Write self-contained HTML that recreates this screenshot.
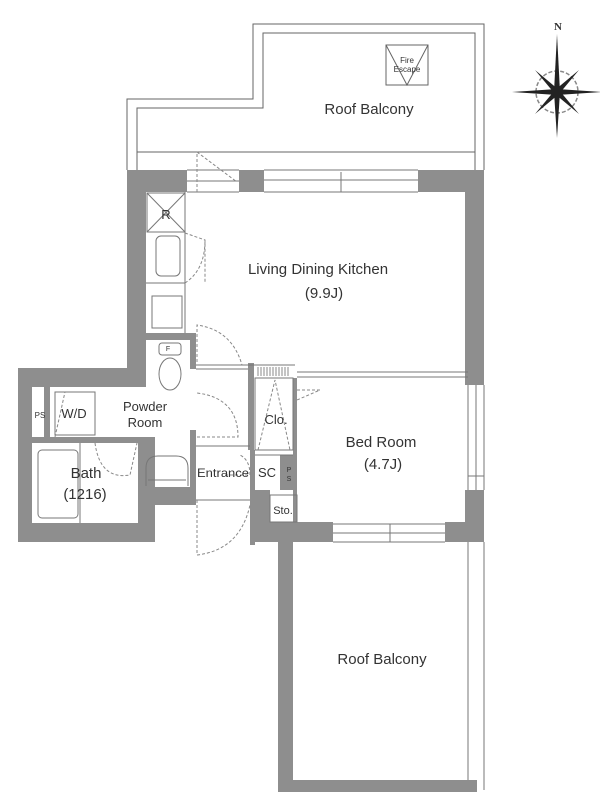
<!DOCTYPE html>
<html><head><meta charset="utf-8"><style>
html,body{margin:0;padding:0;background:#fff;}
svg{display:block}
text{font-family:"Liberation Sans",sans-serif;fill:#333;}
</style></head><body>
<svg width="600" height="800" viewBox="0 0 600 800" xmlns="http://www.w3.org/2000/svg">
<g fill="none" stroke="#666" stroke-width="1">
<polyline points="127,170 127,99 253,99 253,24 484,24 484,170"/>
<polyline points="137,170 137,108 263,108 263,33 475,33 475,170"/>
<line x1="137" y1="152" x2="475" y2="152"/>
<rect x="386" y="45" width="42" height="40"/>
<polyline points="386,45 407,85 428,45"/>
</g>
<text x="407" y="63" font-size="8" text-anchor="middle">Fire</text>
<text x="407" y="72" font-size="8" text-anchor="middle">Escape</text>
<text x="369" y="114" font-size="15" text-anchor="middle">Roof Balcony</text>

<g fill="#8e8e8e">
<rect x="127" y="170" width="60" height="22"/>
<rect x="239" y="170" width="25" height="22"/>
<rect x="418" y="170" width="66" height="22"/>
<rect x="127" y="170" width="19" height="200"/>
<rect x="465" y="170" width="19" height="215"/>
<rect x="465" y="490" width="19" height="52"/>
<rect x="18" y="368" width="128" height="19"/>
<rect x="18" y="368" width="14" height="174"/>
<rect x="18" y="523" width="137" height="19"/>
<rect x="138" y="437" width="17" height="105"/>
<rect x="32" y="437" width="110" height="6"/>
<rect x="44" y="387" width="6" height="50"/>
<rect x="140" y="487" width="55" height="18"/>
<rect x="146" y="333" width="50" height="7"/>
<rect x="190" y="333" width="6" height="36"/>
<rect x="190" y="430" width="6" height="75"/>
<rect x="250" y="450" width="5" height="95"/>
<rect x="255" y="490" width="15" height="52"/>
<rect x="255" y="522" width="78" height="20"/>
<rect x="445" y="522" width="39" height="20"/>
<rect x="293" y="378" width="4" height="145"/>
<rect x="248" y="363" width="6" height="87"/>
<rect x="280" y="455" width="17" height="35"/>
<rect x="278" y="542" width="15" height="250"/>
<rect x="278" y="780" width="199" height="12"/>
</g>

<g fill="none" stroke="#777" stroke-width="1">
<line x1="187" y1="181" x2="239" y2="181"/><line x1="187" y1="192" x2="239" y2="192"/><line x1="187" y1="170" x2="239" y2="170"/>
<line x1="264" y1="170" x2="418" y2="170"/><line x1="264" y1="180" x2="418" y2="180"/><line x1="264" y1="192" x2="418" y2="192"/>
<line x1="341" y1="172" x2="341" y2="192"/>
<line x1="468" y1="385" x2="468" y2="490"/><line x1="476" y1="385" x2="476" y2="490"/><line x1="484" y1="385" x2="484" y2="490"/>
<line x1="468" y1="476" x2="484" y2="476"/>
<line x1="333" y1="524" x2="445" y2="524"/><line x1="333" y1="533" x2="445" y2="533"/><line x1="333" y1="542" x2="445" y2="542"/>
<line x1="390" y1="524" x2="390" y2="542"/>
<line x1="468" y1="542" x2="468" y2="780"/><line x1="484" y1="542" x2="484" y2="790"/>
<line x1="185" y1="192" x2="185" y2="333"/>
<rect x="147" y="193" width="38" height="39"/>
<line x1="147" y1="193" x2="185" y2="232"/><line x1="185" y1="193" x2="147" y2="232"/>
<rect x="156" y="236" width="24" height="40" rx="5"/>
<line x1="146" y1="283" x2="185" y2="283"/>
<rect x="152" y="296" width="30" height="32"/>
<rect x="159" y="343" width="22" height="12" rx="3"/>
<ellipse cx="170" cy="374" rx="11" ry="16"/>
<rect x="55" y="392" width="40" height="43"/>
<rect x="38" y="450" width="40" height="68" rx="4"/>
<line x1="80" y1="443" x2="80" y2="523"/>
<path d="M146,486 V468 Q146,456 158,456 H176 Q188,456 188,468 V486"/>
<line x1="148" y1="480" x2="186" y2="480"/>
<line x1="196" y1="365" x2="295" y2="365"/><line x1="196" y1="369" x2="248" y2="369"/>
<line x1="196" y1="446" x2="250" y2="446"/>
<line x1="196" y1="500" x2="250" y2="500"/>
<rect x="255" y="378" width="38" height="72"/>
<line x1="255" y1="455" x2="293" y2="455"/>
<line x1="297" y1="372" x2="468" y2="372"/><line x1="297" y1="377" x2="468" y2="377"/>
<rect x="270" y="495" width="27" height="27"/>
</g>
<g stroke="#888" stroke-width="1">
<line x1="258" y1="367" x2="258" y2="376"/><line x1="261" y1="367" x2="261" y2="376"/><line x1="264" y1="367" x2="264" y2="376"/><line x1="267" y1="367" x2="267" y2="376"/><line x1="270" y1="367" x2="270" y2="376"/><line x1="273" y1="367" x2="273" y2="376"/><line x1="276" y1="367" x2="276" y2="376"/><line x1="279" y1="367" x2="279" y2="376"/><line x1="282" y1="367" x2="282" y2="376"/><line x1="285" y1="367" x2="285" y2="376"/><line x1="288" y1="367" x2="288" y2="376"/>
</g>
<g fill="none" stroke="#888" stroke-width="1" stroke-dasharray="3,2">
<path d="M197,192 L197,152 L237,182"/>
<path d="M185,233 L205,240 L205,283"/><path d="M185,283 Q205,270 205,240"/>
<path d="M197,362 L197,325 Q232,330 242,365"/>
<path d="M197,437 L238,437 Q238,398 197,393"/>
<path d="M197,500 L197,555 Q240,550 250,505"/>
<path d="M95,443 Q100,480 130,475 L137,443"/>
<path d="M55,437 L65,392"/>
<path d="M258,450 L275,380 L290,450"/>
<path d="M297,390 L320,390 L297,400"/>
<path d="M225,475 L250,475 Q250,460 240,455"/>
</g>
<g>
<text x="166" y="219" font-size="13" text-anchor="middle">R</text>
<text x="168" y="351" font-size="7" text-anchor="middle">F</text>
<text x="318" y="274" font-size="15" text-anchor="middle">Living Dining Kitchen</text>
<text x="324" y="298" font-size="15" text-anchor="middle">(9.9J)</text>
<text x="40" y="418" font-size="8" text-anchor="middle">PS</text>
<text x="74" y="418" font-size="13" text-anchor="middle">W/D</text>
<text x="145" y="411" font-size="13" text-anchor="middle">Powder</text>
<text x="145" y="427" font-size="13" text-anchor="middle">Room</text>
<text x="86" y="478" font-size="15" text-anchor="middle">Bath</text>
<text x="85" y="499" font-size="15" text-anchor="middle">(1216)</text>
<text x="223" y="477" font-size="12" text-anchor="middle" textLength="52" lengthAdjust="spacingAndGlyphs">Entrance</text>
<text x="267" y="477" font-size="13" text-anchor="middle">SC</text>
<text x="289" y="472" font-size="7" text-anchor="middle">P</text>
<text x="289" y="481" font-size="7" text-anchor="middle">S</text>
<text x="276" y="424" font-size="13" text-anchor="middle">Clo.</text>
<text x="283" y="514" font-size="11" text-anchor="middle">Sto.</text>
<text x="381" y="447" font-size="15" text-anchor="middle">Bed Room</text>
<text x="383" y="469" font-size="15" text-anchor="middle">(4.7J)</text>
<text x="382" y="664" font-size="15" text-anchor="middle">Roof Balcony</text>
</g>
<g transform="translate(557,92)">
<circle r="21" fill="none" stroke="#888" stroke-width="1.5" stroke-dasharray="4,2"/>
<polygon points="0,-58 3,0 0,46 -3,0" fill="#222"/>
<polygon points="-45,0 0,-3 45,0 0,3" fill="#222"/>
<polygon points="-22,-22 2,-2 22,22 -2,2" fill="#222"/>
<polygon points="22,-22 2,2 -22,22 -2,-2" fill="#222"/>
</g>
<text x="558" y="30" font-size="11" font-weight="bold" text-anchor="middle" style="font-family:'Liberation Serif',serif">N</text>
</svg>
</body></html>
